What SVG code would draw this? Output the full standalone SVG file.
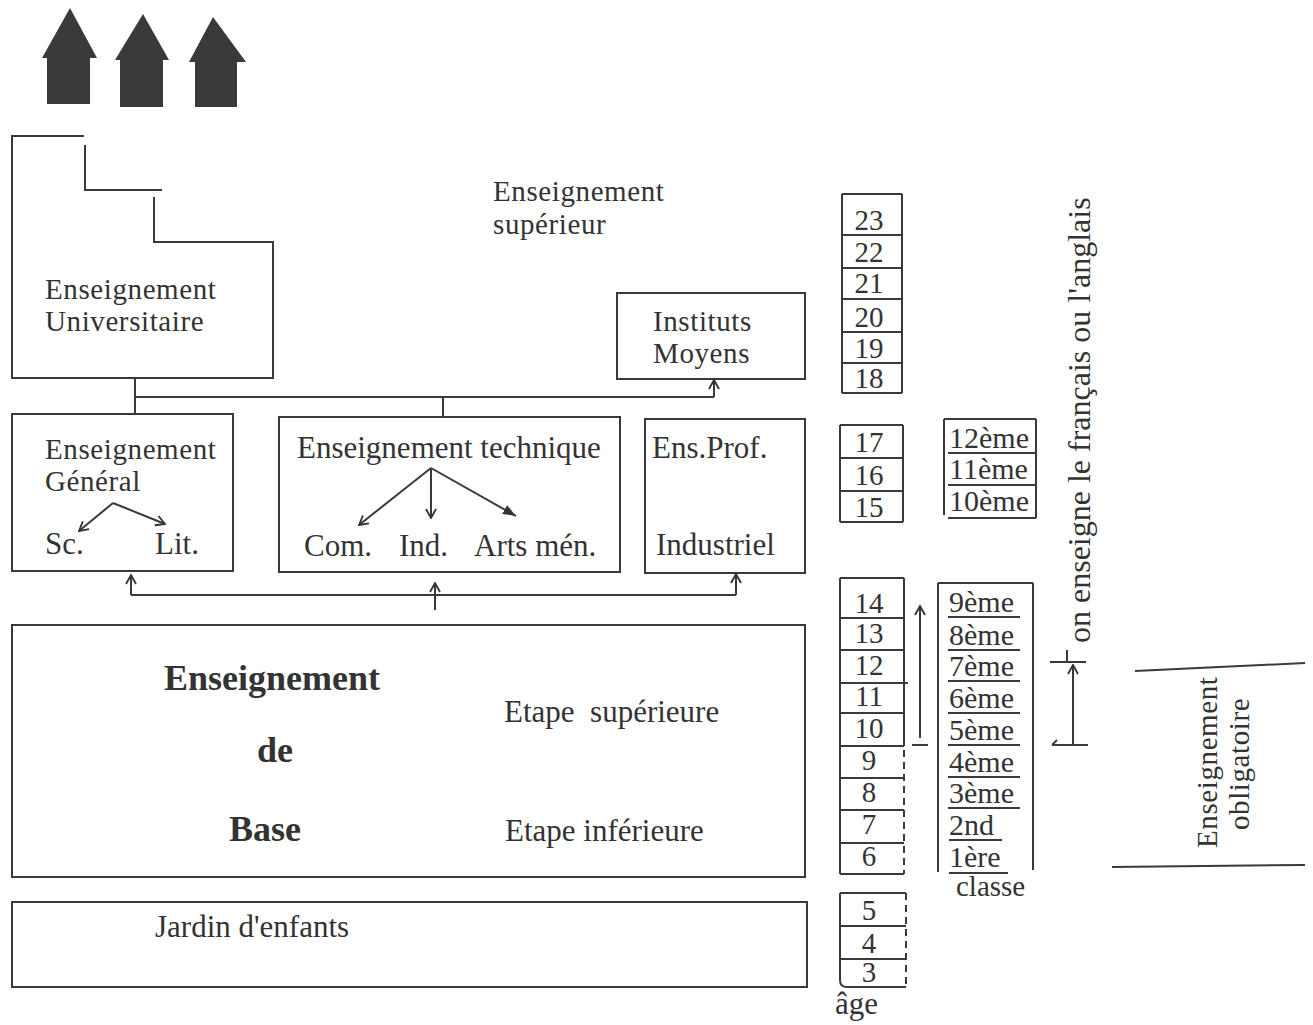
<svg xmlns="http://www.w3.org/2000/svg" width="1313" height="1025" viewBox="0 0 1313 1025">
<defs>
<style>
.t{font-family:"Liberation Serif","Times New Roman",serif;font-size:31px;fill:#333}
.t2{font-family:"Liberation Serif","Times New Roman",serif;font-size:29px;letter-spacing:0.6px;fill:#333}
.b{font-family:"Liberation Serif","Times New Roman",serif;font-size:36px;font-weight:bold;fill:#333}
.n{font-family:"Liberation Serif","Times New Roman",serif;font-size:29px;fill:#333;text-anchor:middle}
.c{font-family:"Liberation Serif","Times New Roman",serif;font-size:30px;fill:#333}
.ln{fill:none;stroke:#3a3a3a;stroke-width:2}
.dash{fill:none;stroke:#3a3a3a;stroke-width:2;stroke-dasharray:7 5}
.house{fill:#3a3a3a}
</style>
<marker id="open" viewBox="0 0 12 12" refX="11" refY="6" markerWidth="12" markerHeight="12" markerUnits="userSpaceOnUse" orient="auto">
<path d="M2,1 L11,6 L2,11" fill="none" stroke="#333" stroke-width="1.8"/>
</marker>
<marker id="solid" viewBox="0 0 14 12" refX="13" refY="6" markerWidth="14" markerHeight="12" markerUnits="userSpaceOnUse" orient="auto">
<path d="M0,1 L13,6 L0,11 Z" fill="#333"/>
</marker>
</defs>
<rect width="1313" height="1025" fill="#ffffff"/>

<g id="top-arrows">
<polygon class="house" points="70,8 97,58 90,58 90,104 47,104 47,58 42,58"/>
<polygon class="house" points="143,14 169,60 163,60 163,107 120,107 120,60 115,60"/>
<polygon class="house" points="213,17 246,62 237,62 237,107 195,107 195,62 189,62"/>
</g>

<g id="node-universitaire">
<path class="ln" d="M11,136 H84 M85,145 V190 H162 M154,197 V242 H273 V378 H12 V136"/>
<text class="t2" x="45" y="299">Enseignement</text>
<text class="t2" x="45" y="331">Universitaire</text>
</g>

<g id="label-superieur">
<text class="t2" x="493" y="201">Enseignement</text>
<text class="t2" x="493" y="234">supérieur</text>
</g>

<g id="node-instituts">
<rect class="ln" x="617" y="293" width="188" height="86"/>
<text class="t2" x="653" y="331">Instituts</text>
<text class="t2" x="653" y="363">Moyens</text>
</g>

<g id="node-general">
<rect class="ln" x="12" y="414" width="221" height="157"/>
<text class="t2" x="45" y="459">Enseignement</text>
<text class="t2" x="45" y="491">Général</text>
<text class="t" x="45" y="554">Sc.</text>
<text class="t" x="155" y="554">Lit.</text>
<line class="ln" x1="113" y1="503" x2="79" y2="531" marker-end="url(#open)"/>
<line class="ln" x1="113" y1="503" x2="165" y2="524" marker-end="url(#open)"/>
</g>

<g id="node-technique">
<rect class="ln" x="279" y="417" width="341" height="155"/>
<text class="t" x="297" y="458">Enseignement technique</text>
<text class="t" x="304" y="556">Com.</text>
<text class="t" x="399" y="556">Ind.</text>
<text class="t" x="474" y="556">Arts mén.</text>
<line class="ln" x1="431" y1="468" x2="359" y2="525" marker-end="url(#open)"/>
<line class="ln" x1="431" y1="468" x2="431" y2="518" marker-end="url(#open)"/>
<line class="ln" x1="431" y1="468" x2="516" y2="516" marker-end="url(#solid)"/>
</g>

<g id="node-prof">
<rect class="ln" x="645" y="419" width="160" height="154"/>
<text class="t" x="652" y="458">Ens.Prof.</text>
<text class="t" x="656" y="555">Industriel</text>
</g>

<g id="node-base">
<rect class="ln" x="12" y="625" width="793" height="252"/>
<text class="b" x="164" y="690">Enseignement</text>
<text class="b" x="257" y="762">de</text>
<text class="b" x="229" y="841">Base</text>
<text class="t" x="504" y="722" style="white-space:pre">Etape  supérieure</text>
<text class="t" x="505" y="841">Etape inférieure</text>
</g>

<g id="node-jardin">
<rect class="ln" x="12" y="902" width="795" height="85"/>
<text class="t" x="155" y="937">Jardin d'enfants</text>
</g>

<g id="connectors">
<line class="ln" x1="135" y1="378" x2="135" y2="414"/>
<line class="ln" x1="135" y1="397" x2="714" y2="397"/>
<line class="ln" x1="443" y1="397" x2="443" y2="417"/>
<line class="ln" x1="714" y1="397" x2="714" y2="380" marker-end="url(#open)"/>
<line class="ln" x1="131" y1="595" x2="736" y2="595"/>
<line class="ln" x1="131" y1="595" x2="131" y2="575" marker-end="url(#open)"/>
<line class="ln" x1="736" y1="595" x2="736" y2="574" marker-end="url(#open)"/>
<line class="ln" x1="435" y1="610" x2="435" y2="583" marker-end="url(#open)"/>
<line class="ln" x1="920" y1="738" x2="920" y2="606" marker-end="url(#open)"/>
<line class="ln" x1="912" y1="745" x2="928" y2="745"/>
<line class="ln" x1="1073" y1="745" x2="1073" y2="665" marker-end="url(#open)"/>
<line class="ln" x1="1050" y1="662" x2="1086" y2="662"/>
<line class="ln" x1="1067" y1="650" x2="1067" y2="662"/>
<line class="ln" x1="1052" y1="745" x2="1088" y2="745"/>
<line class="ln" x1="1052" y1="745" x2="1057" y2="740"/>
</g>

<g id="age-upper">
<path class="ln" d="M842,194 H902 M842,194 V393 M902,194 V393 M842,235 H902 M842,268 H902 M842,299 H902 M842,332 H902 M842,363 H902 M842,393 H902"/>
<text class="n" x="869" y="230">23</text>
<text class="n" x="869" y="262">22</text>
<text class="n" x="869" y="293">21</text>
<text class="n" x="869" y="327">20</text>
<text class="n" x="869" y="358">19</text>
<text class="n" x="869" y="388">18</text>
</g>

<g id="age-middle">
<path class="ln" d="M840,425 H903 M840,425 V522 M903,425 V522 M840,458 H903 M840,491 H903 M840,522 H903"/>
<text class="n" x="869" y="452">17</text>
<text class="n" x="869" y="485">16</text>
<text class="n" x="869" y="517">15</text>
</g>

<g id="classe-upper">
<path class="ln" d="M944,419 H1036 M944,419 V515 M1036,419 V518 M948,453 H1036 M948,485 H1036 M948,518 H1036"/>
<text class="c" x="949" y="448">12ème</text>
<text class="c" x="949" y="479">11ème</text>
<text class="c" x="949" y="511">10ème</text>
</g>

<g id="age-lower">
<path class="ln" d="M840,578 H904 M840,578 V874 M904,578 V746 M840,618 H904 M840,650 H904 M840,683 H908 M840,713 H904 M840,746 H904 M840,778 H904 M840,810 H904 M840,843 H904 M840,874 H904"/>
<path class="dash" d="M904,750 V874"/>
<text class="n" x="869" y="613">14</text>
<text class="n" x="869" y="643">13</text>
<text class="n" x="869" y="675">12</text>
<text class="n" x="869" y="706">11</text>
<text class="n" x="869" y="738">10</text>
<text class="n" x="869" y="770">9</text>
<text class="n" x="869" y="802">8</text>
<text class="n" x="869" y="834">7</text>
<text class="n" x="869" y="866">6</text>
</g>

<g id="age-bottom">
<path class="ln" d="M840,893 H906 M840,893 V980 Q840,987 847,987 H906 M840,926 H906 M840,959 H906"/>
<path class="dash" d="M906,893 V985"/>
<text class="n" x="869" y="920">5</text>
<text class="n" x="869" y="953">4</text>
<text class="n" x="869" y="982">3</text>
<text class="t" x="835" y="1014">âge</text>
</g>

<g id="classe-lower">
<path class="ln" d="M938,583 H1033 M938,583 V872 M1033,583 V870 M948,617 H1020 M948,650 H1020 M948,681 H1020 M948,713 H1020 M948,745 H1020 M948,777 H1020 M948,808 H1020 M949,840 H1002 M949,873 H1008"/>
<text class="c" x="949" y="612">9ème</text>
<text class="c" x="949" y="645">8ème</text>
<text class="c" x="949" y="676">7ème</text>
<text class="c" x="949" y="708">6ème</text>
<text class="c" x="949" y="740">5ème</text>
<text class="c" x="949" y="772">4ème</text>
<text class="c" x="949" y="803">3ème</text>
<text class="c" x="949" y="835">2nd</text>
<text class="c" x="949" y="867">1ère</text>
<text class="c" style="font-size:29px" x="956" y="896">classe</text>
</g>

<g id="label-langue">
<text class="t" style="font-size:32px" transform="translate(1090,643) rotate(-90)">on enseigne le français ou l'anglais</text>
</g>

<g id="label-obligatoire">
<line class="ln" x1="1135" y1="671" x2="1305" y2="663"/>
<line class="ln" x1="1112" y1="867" x2="1305" y2="865"/>
<text class="t2" transform="translate(1217,848) rotate(-90)">Enseignement</text>
<text class="t2" transform="translate(1249,830) rotate(-90)">obligatoire</text>
</g>
</svg>
